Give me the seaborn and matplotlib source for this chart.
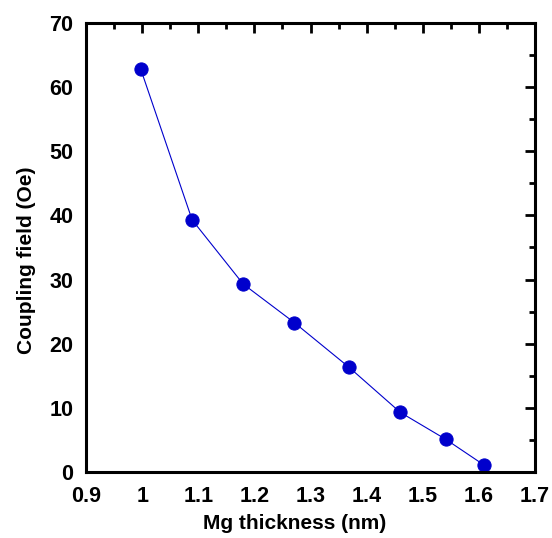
import seaborn as sns
import matplotlib.pyplot as plt
import pandas as pd
from matplotlib.ticker import MultipleLocator

# values
mg_thickness = [0.997, 1.089, 1.180, 1.271, 1.369, 1.460, 1.541, 1.609]
coupling_field = [62.9, 39.3, 29.3, 23.3, 16.3, 9.3, 5.1, 1.1]
x_ticks = [0.9, 1.0, 1.1, 1.2, 1.3, 1.4, 1.5, 1.6, 1.7]
x_tick_labels = ['0.9', '1', '1.1', '1.2', '1.3', '1.4', '1.5', '1.6', '1.7']

df = pd.DataFrame({'thickness': mg_thickness, 'field': coupling_field})

sns.set_style('white')
plt.rcParams['font.family'] = ['Liberation Sans', 'DejaVu Sans']
plt.rcParams['font.weight'] = 'bold'
plt.rcParams['text.color'] = 'black'
plt.rcParams['axes.labelcolor'] = 'black'
plt.rcParams['xtick.color'] = 'black'
plt.rcParams['ytick.color'] = 'black'

fig = plt.figure(figsize=(5.52, 5.38), dpi=100)
ax = fig.add_axes([0.156, 0.1227, 0.813, 0.8346])

sns.lineplot(data=df, x='thickness', y='field', ax=ax, color='#0000CC',
             linewidth=0.8, marker='o', markersize=9.5,
             markeredgecolor='#0000CC', markerfacecolor='#0000CC')

ax.set_xlim(0.9, 1.7)
ax.set_ylim(0, 70)
ax.xaxis.set_minor_locator(MultipleLocator(0.05))
ax.yaxis.set_major_locator(MultipleLocator(10))
ax.yaxis.set_minor_locator(MultipleLocator(5))

ax.set_xticks(x_ticks)
ax.set_xticklabels(x_tick_labels)

ax.tick_params(which='both', direction='in', top=True, right=True,
               width=2, labelsize=15.5, color='black', labelcolor='black')
ax.tick_params(which='major', length=7)
ax.tick_params(which='minor', length=4)
ax.tick_params(axis='x', which='major', pad=10)
ax.tick_params(axis='y', which='major', pad=9)
for lab in ax.get_xticklabels() + ax.get_yticklabels():
    lab.set_fontweight('bold')

for sp in ax.spines.values():
    sp.set_visible(True)
    sp.set_linewidth(2.2)
    sp.set_color('black')

# labels sit a bit off-centre in the original
ax.set_xlabel('Mg thickness (nm)', fontsize=15, fontweight='bold', labelpad=5, x=0.464)
ax.set_ylabel('Coupling field (Oe)', fontsize=15, fontweight='bold', labelpad=10, y=0.472)

fig.savefig('out.png', dpi=100)
